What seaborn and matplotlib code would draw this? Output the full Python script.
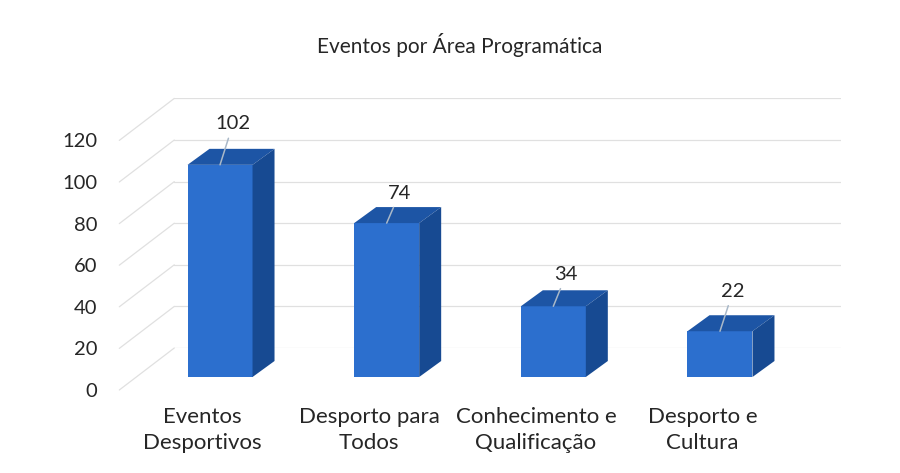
import matplotlib
matplotlib.use('Agg')
from matplotlib import pyplot as plt
from matplotlib.patches import Polygon, ConnectionPatch
import seaborn as sns

# chart data
categories = ['Eventos\nDesportivos', 'Desporto para\nTodos', 'Conhecimento e\nQualificação', 'Desporto e\nCultura']
values = [102, 74, 34, 22]
y_ticks = [0, 20, 40, 60, 80, 100, 120]
title = 'Eventos por Área Programática'

# layout (pixels of a 900x473 figure, dpi 100)
FIG_W, FIG_H = 900, 473
PLOT_LEFT, PLOT_RIGHT = 136.7, 803.3      # front plane of bars, x = -0.5 .. 3.5
PLOT_BOTTOM, PLOT_TOP = 377.0, 127.4      # front plane of bars, y = 0 .. 120
WALL_SHIFT = (37.6, 29.0)                 # back wall relative to bar front
FLOOR_SHIFT = (-17.4, -13.0)              # front floor edge relative to bar front
BAR_DEPTH = (22.0, 16.0)
LABEL_LIFT = [41, 30, 32, 40]             # data label offsets above bar top (px)

FRONT_COLOR = '#2c6fce'
TOP_COLOR = '#1d55a5'
SIDE_COLOR = '#174a92'
GRID_COLOR = '#e0e0e0'
TEXT_COLOR = '#262626'

sns.set_theme(style='white')
plt.rcParams['font.family'] = ['Lato', 'DejaVu Sans']

fig = plt.figure(figsize=(FIG_W / 100, FIG_H / 100), dpi=100)
fig.patch.set_facecolor('white')


def _axes_rect(shift):
    left = (PLOT_LEFT + shift[0]) / FIG_W
    bottom = (FIG_H - PLOT_BOTTOM + shift[1]) / FIG_H
    width = (PLOT_RIGHT - PLOT_LEFT) / FIG_W
    height = (PLOT_BOTTOM - PLOT_TOP) / FIG_H
    return [left, bottom, width, height]


def _setup(ax):
    ax.set_xlim(-0.5, 3.5)
    ax.set_ylim(0, 120)
    ax.set_facecolor('none')
    for spine in ax.spines.values():
        spine.set_visible(False)


# back wall with gridlines
ax_back = fig.add_axes(_axes_rect(WALL_SHIFT))
_setup(ax_back)
ax_back.set_yticks(y_ticks)
ax_back.set_xticks([])
ax_back.tick_params(left=False, labelleft=False)
ax_back.yaxis.grid(True, color=GRID_COLOR, linewidth=0.9)

# front floor edge carries the axis labels
ax_front = fig.add_axes(_axes_rect(FLOOR_SHIFT))
_setup(ax_front)
ax_front.set_yticks(y_ticks)
ax_front.set_yticklabels([str(t) for t in y_ticks])
ax_front.set_xticks(range(len(categories)))
ax_front.set_xticklabels(categories)
ax_front.tick_params(axis='y', length=0, pad=16, labelsize=14.5, labelcolor=TEXT_COLOR)
ax_front.tick_params(axis='x', length=0, pad=12, labelsize=16, labelcolor=TEXT_COLOR)
for label in ax_front.get_xticklabels():
    label.set_linespacing(1.4)

# side wall lines joining front edge to back wall
for tick in y_ticks:
    con = ConnectionPatch(xyA=(-0.5, tick), coordsA=ax_front.transData,
                          xyB=(-0.5, tick), coordsB=ax_back.transData,
                          color=GRID_COLOR, linewidth=0.9)
    fig.add_artist(con)

# bars
ax = fig.add_axes(_axes_rect((0, 0)))
sns.barplot(x=list(range(len(values))), y=values, ax=ax, color=FRONT_COLOR, saturation=1,
            width=0.39, native_scale=True)
_setup(ax)
ax.set_xticks([])
ax.set_yticks([])
ax.set_xlabel('')
ax.set_ylabel('')

to_disp = ax.transData
to_data = ax.transData.inverted()
for patch, value, lift in zip(ax.patches, values, LABEL_LIFT):
    patch.set_edgecolor('none')
    x0 = patch.get_x()
    x1 = x0 + patch.get_width()
    h = patch.get_height()
    (px0, py0), (px1, py1), (_, pyh) = to_disp.transform([(x0, 0), (x1, 0), (x0, h)])
    dx, dy = BAR_DEPTH
    top = to_data.transform([(px0, pyh), (px1, pyh), (px1 + dx, pyh + dy), (px0 + dx, pyh + dy)])
    side = to_data.transform([(px1, py1), (px1, pyh), (px1 + dx, pyh + dy), (px1 + dx, py1 + dy)])
    ax.add_patch(Polygon(top, closed=True, facecolor=TOP_COLOR, edgecolor='none', clip_on=False))
    ax.add_patch(Polygon(side, closed=True, facecolor=SIDE_COLOR, edgecolor='none', clip_on=False))

    center = (x0 + x1) / 2
    ax.annotate(str(value), xy=(center, h), xytext=(13 * 0.72, lift * 0.72),
                textcoords='offset points', ha='center', va='center',
                fontsize=14.5, color=TEXT_COLOR, annotation_clip=False,
                arrowprops=dict(arrowstyle='-', color='#a9b8c8', linewidth=1.1,
                                shrinkA=2, shrinkB=0))

fig.text(460 / FIG_W, 1 - 45 / FIG_H, title, ha='center', va='center', fontsize=15, color=TEXT_COLOR)

plt.savefig('out.png', dpi=100)
plt.close()
